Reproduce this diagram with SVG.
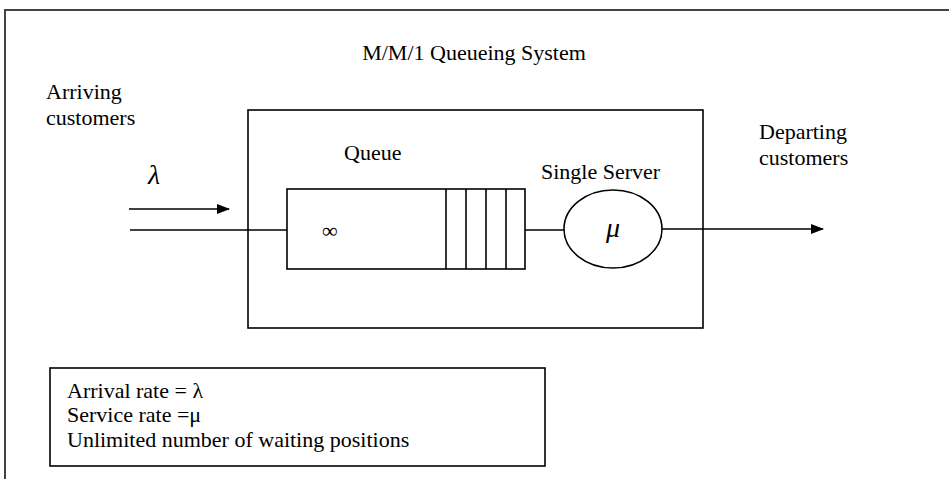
<svg xmlns="http://www.w3.org/2000/svg" width="949" height="479" viewBox="0 0 949 479">
  <style>
    .ln { stroke: #000; stroke-width: 1.6; fill: none; }
    .bx { stroke: #000; stroke-width: 1.6; fill: #fff; }
    .t { font-family: "Liberation Serif", "Times New Roman", serif; font-size: 22px; fill: #000; }
    .sym { font-family: "Liberation Serif", "Times New Roman", serif; font-style: italic; font-size: 28px; fill: #000; }
    .inf { font-family: "Liberation Serif", "Times New Roman", serif; font-size: 22px; fill: #000; }
  </style>
  <defs>
    <marker id="arrow" markerWidth="13" markerHeight="10" refX="12" refY="5" orient="auto" markerUnits="userSpaceOnUse">
      <path d="M0,0 L13,5 L0,10 z" fill="#000"/>
    </marker>
  </defs>
  <rect width="949" height="479" fill="#fff"/>

  <!-- outer frame (top and left edges) -->
  <path d="M5,479 L5,10 L949,10" stroke="#444" stroke-width="2" fill="none"/>

  <text class="t" x="474" y="60" text-anchor="middle">M/M/1 Queueing System</text>

  <g id="arrivals">
    <text class="t" x="46" y="99">Arriving</text>
    <text class="t" x="46" y="125">customers</text>
    <text class="sym" x="148" y="184">λ</text>
  </g>

  <g id="system">
    <rect class="bx" x="248" y="110" width="455" height="218"/>
  </g>

  <g id="connectors">
    <line class="ln" x1="129" y1="209" x2="229" y2="209" marker-end="url(#arrow)"/>
    <line class="ln" x1="130" y1="230" x2="287" y2="230"/>
    <line class="ln" x1="525" y1="230" x2="564" y2="230"/>
    <line class="ln" x1="662" y1="229" x2="823" y2="229" marker-end="url(#arrow)"/>
  </g>

  <g id="queue">
    <text class="t" x="344" y="160">Queue</text>
    <rect class="bx" x="287" y="189" width="238" height="80"/>
    <line class="ln" x1="446" y1="189" x2="446" y2="269"/>
    <line class="ln" x1="466" y1="189" x2="466" y2="269"/>
    <line class="ln" x1="486" y1="189" x2="486" y2="269"/>
    <line class="ln" x1="506" y1="189" x2="506" y2="269"/>
    <text class="inf" x="322" y="238">∞</text>
  </g>

  <g id="server">
    <text class="t" x="541" y="179">Single Server</text>
    <ellipse class="bx" cx="613" cy="229" rx="49" ry="39"/>
    <text class="sym" x="613" y="237" text-anchor="middle">μ</text>
  </g>

  <g id="departures">
    <text class="t" x="759" y="139">Departing</text>
    <text class="t" x="759" y="165">customers</text>
  </g>

  <g id="legend">
    <rect class="bx" x="50" y="368" width="495" height="98"/>
    <text class="t" x="67" y="398">Arrival rate = λ</text>
    <text class="t" x="67" y="422">Service rate =μ</text>
    <text class="t" x="67" y="447">Unlimited number of waiting positions</text>
  </g>
</svg>
